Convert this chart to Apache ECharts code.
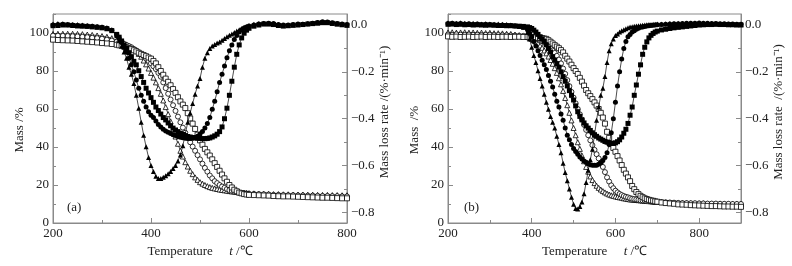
<!DOCTYPE html>
<html>
<head>
<meta charset="utf-8">
<script src="https://cdn.jsdelivr.net/npm/echarts@6/dist/echarts.min.js"></script>
<style>
  html, body { margin: 0; padding: 0; background: #fff; }
  #chart { width: 792px; height: 266px; }
</style>
</head>
<body>
<div id="chart"></div>
<script>
// temperatures (°C)
const tempA = [
  200, 210, 220, 230, 240, 250, 260, 270, 280, 290, 300, 310, 320,
  330, 335, 340, 345, 350, 355, 360, 365, 370, 375,
  380, 385, 390, 395, 400, 405, 410, 415, 420, 425,
  430, 435, 440, 445, 450, 455, 460, 465, 470, 475,
  480, 485, 490, 495, 500, 505, 510, 515, 520, 525,
  530, 535, 540, 545, 550, 555, 560, 565, 570, 575,
  580, 585, 590, 595, 600,
  610, 620, 630, 640, 650, 660, 670, 680, 690, 700,
  710, 720, 730, 740, 750, 760, 770, 780, 790, 800,
]
// mass % (open symbols), panel (a)
const tgA1 = [
  99.5, 99.6, 99.6, 99.6, 99.6, 99.5, 99.4, 99.2, 99.0, 98.7, 98.4, 98.0, 97.3,
  96.3, 95.8, 95.2, 94.6, 94.0, 93.3, 92.5, 91.5, 90.5, 89.0,
  87.5, 85.5, 83.5, 81.3, 79.0, 76.5, 74.0, 71.0, 68.0, 64.5,
  61.0, 57.3, 53.5, 49.5, 45.5, 41.7, 38.0, 35.0, 32.0, 29.7,
  27.5, 25.7, 24.0, 22.7, 21.5, 20.7, 20.0, 19.4, 18.9, 18.5,
  18.2, 17.9, 17.6, 17.4, 17.2, 17.0, 16.8, 16.6, 16.5, 16.3,
  16.2, 16.0, 15.9, 15.8, 15.7,
  15.6, 15.5, 15.4, 15.3, 15.2, 15.2, 15.1, 15.1, 15.0, 15.0,
  15.0, 14.9, 14.9, 14.8, 14.8, 14.8, 14.7, 14.7, 14.6, 14.6,
]
const tgA2 = [
  98.6, 98.6, 98.5, 98.4, 98.3, 98.2, 98.0, 97.8, 97.5, 97.3, 97.0, 96.5, 96.0,
  95.4, 95.1, 94.8, 94.3, 93.7, 93.1, 92.5, 91.6, 90.8, 89.9,
  89.0, 87.8, 86.5, 85.3, 84.0, 82.5, 81.0, 79.0, 77.0, 74.0,
  71.0, 68.0, 65.0, 62.0, 59.0, 56.0, 53.0, 50.2, 47.5, 45.0,
  42.5, 40.2, 38.0, 35.7, 33.5, 31.2, 29.0, 27.0, 25.0, 23.5,
  22.0, 21.0, 20.0, 19.2, 18.5, 17.9, 17.3, 16.9, 16.5, 16.2,
  16.0, 15.8, 15.7, 15.5, 15.4,
  15.3, 15.2, 15.1, 15.0, 14.8, 14.8, 14.7, 14.6, 14.6, 14.5,
  14.5, 14.4, 14.4, 14.3, 14.2, 14.2, 14.1, 14.1, 14.0, 14.0,
]
const tgA3 = [
  96.5, 96.3, 96.2, 96.1, 96.0, 95.8, 95.6, 95.4, 95.2, 95.0, 94.7, 94.5, 94.2,
  93.8, 93.5, 93.3, 92.8, 92.4, 92.0, 91.5, 90.9, 90.3, 89.6,
  89.0, 88.4, 87.8, 87.1, 86.5, 85.3, 84.0, 82.0, 80.0, 78.0,
  76.0, 74.3, 72.5, 70.5, 68.5, 66.2, 64.0, 62.3, 60.5, 57.8,
  55.0, 52.3, 49.5, 46.5, 43.5, 41.2, 39.0, 37.2, 35.5, 33.5,
  31.5, 29.5, 27.5, 25.5, 23.5, 21.7, 20.0, 18.7, 17.5, 16.7,
  16.0, 15.6, 15.2, 15.0, 14.8,
  14.7, 14.6, 14.5, 14.4, 14.2, 14.1, 14.0, 14.0, 13.9, 13.8,
  13.7, 13.6, 13.5, 13.4, 13.3, 13.3, 13.2, 13.1, 13.0, 13.0,
]
// mass loss rate (filled symbols), panel (a)
const dtgA1 = [
  0.004, 0.006, 0.005, 0.003, 0.002, 0.002, 0.0, -0.002, -0.004, -0.006, -0.008, -0.012, -0.02,
  -0.045, -0.065, -0.09, -0.115, -0.142, -0.18, -0.21, -0.25, -0.3, -0.355,
  -0.415, -0.47, -0.52, -0.565, -0.6, -0.625, -0.645, -0.655, -0.655, -0.65,
  -0.643, -0.635, -0.625, -0.612, -0.6, -0.58, -0.555, -0.515, -0.465, -0.415,
  -0.375, -0.335, -0.295, -0.26, -0.228, -0.18, -0.142, -0.118, -0.1, -0.09,
  -0.083, -0.077, -0.072, -0.065, -0.058, -0.05, -0.044, -0.038, -0.032, -0.026,
  -0.02, -0.015, -0.01, -0.006, -0.003,
  0.003, 0.006, 0.008, 0.006, 0.003, 0.0, -0.003, -0.002, 0.0, 0.002,
  0.004, 0.006, 0.008, 0.01, 0.012, 0.012, 0.008, 0.005, 0.002, 0.0,
]
const dtgA2 = [
  0.0, 0.002, 0.003, 0.001, 0.0, -0.002, -0.003, -0.004, -0.005, -0.007, -0.01, -0.014, -0.022,
  -0.04, -0.055, -0.075, -0.095, -0.115, -0.142, -0.17, -0.2, -0.235, -0.27,
  -0.3, -0.325, -0.35, -0.37, -0.385, -0.395, -0.41, -0.425, -0.435, -0.445,
  -0.452, -0.458, -0.463, -0.468, -0.472, -0.476, -0.479, -0.481, -0.483, -0.484,
  -0.484, -0.483, -0.48, -0.475, -0.465, -0.455, -0.44, -0.42, -0.395, -0.36,
  -0.325, -0.285, -0.245, -0.21, -0.175, -0.14, -0.11, -0.085, -0.062, -0.045,
  -0.03, -0.02, -0.013, -0.008, -0.004,
  0.0, 0.004, 0.006, 0.008, 0.006, 0.002, 0.0, 0.0, 0.002, 0.004,
  0.003, 0.005, 0.008, 0.011, 0.014, 0.013, 0.01, 0.006, 0.004, 0.002,
]
const dtgA3 = [
  -0.003, -0.002, 0.0, 0.0, -0.002, -0.004, -0.005, -0.006, -0.008, -0.01, -0.012, -0.016, -0.024,
  -0.04, -0.052, -0.068, -0.085, -0.1, -0.118, -0.135, -0.155, -0.17, -0.195,
  -0.22, -0.245, -0.27, -0.29, -0.31, -0.33, -0.35, -0.365, -0.38, -0.395,
  -0.405, -0.418, -0.43, -0.44, -0.448, -0.455, -0.462, -0.467, -0.472, -0.476,
  -0.478, -0.48, -0.482, -0.483, -0.484, -0.485, -0.485, -0.484, -0.482, -0.478,
  -0.473, -0.466, -0.455, -0.435, -0.4, -0.355, -0.3, -0.24, -0.18, -0.125,
  -0.085, -0.055, -0.035, -0.022, -0.014,
  -0.005, 0.0, 0.004, 0.004, 0.002, -0.002, -0.004, -0.003, -0.001, 0.0,
  0.002, 0.004, 0.006, 0.008, 0.01, 0.01, 0.007, 0.004, 0.001, -0.001,
]

// temperatures (°C)
const tempB = [
  200, 210, 220, 230, 240, 250, 260, 270, 280, 290, 300, 310, 320, 330, 340, 350, 360, 370, 380,
  390, 395, 400, 405, 410, 415, 420, 425, 430, 435,
  440, 445, 450, 455, 460, 465, 470, 475, 480, 485,
  490, 495, 500, 505, 510, 515, 520, 525, 530, 535,
  540, 545, 550, 555, 560, 565, 570, 575, 580, 585,
  590, 595, 600, 605, 610, 615, 620, 625, 630, 635,
  640, 645, 650, 655, 660, 665, 670, 675, 680, 685,
  690, 695, 700,
  710, 720, 730, 740, 750, 760, 770, 780, 790, 800, 810, 820, 830, 840, 850, 860, 870, 880, 890, 900,
]
const tgB1 = [
  100.3, 100.4, 100.2, 100.3, 100.4, 100.2, 100.3, 100.1, 100.2, 100.0, 100.1, 99.9, 99.9, 99.8, 99.6, 99.5, 99.2, 98.9, 98.5,
  98.0, 97.5, 96.9, 96.2, 95.4, 94.5, 93.4, 92.2, 90.8, 89.3,
  87.6, 85.8, 83.8, 81.5, 79.0, 76.2, 73.0, 69.5, 65.8, 62.0,
  58.0, 54.0, 50.0, 46.2, 42.5, 39.0, 35.5, 32.5, 29.5, 27.0,
  24.5, 22.6, 21.0, 19.6, 18.5, 17.6, 16.8, 16.1, 15.5, 15.0,
  14.6, 14.3, 14.0, 13.7, 13.5, 13.3, 13.0, 12.8, 12.6, 12.4,
  12.3, 12.2, 12.1, 12.0, 11.9, 11.8, 11.7, 11.6, 11.5, 11.4,
  11.3, 11.2, 11.1,
  11.0, 10.9, 10.8, 10.7, 10.6, 10.6, 10.5, 10.5, 10.4, 10.4, 10.4, 10.3, 10.3, 10.3, 10.3, 10.2, 10.2, 10.2, 10.2, 10.2,
]
const tgB2 = [
  99.2, 99.0, 99.3, 99.1, 99.0, 99.2, 99.0, 99.1, 98.9, 99.0, 99.1, 98.9, 98.9, 98.8, 98.8, 98.7, 98.6, 98.5, 98.5,
  98.3, 98.2, 98.0, 97.7, 97.3, 96.8, 96.3, 95.7, 95.0, 94.1,
  93.2, 92.0, 90.8, 89.5, 88.0, 86.0, 84.0, 81.3, 78.5, 75.2,
  72.0, 69.0, 66.0, 63.0, 60.0, 57.2, 54.5, 51.7, 49.0, 46.2,
  43.5, 41.0, 38.5, 36.2, 34.0, 31.7, 29.5, 26.8, 24.0, 21.8,
  19.8, 18.3, 17.0, 16.1, 15.3, 14.7, 14.2, 13.8, 13.5, 13.1,
  12.8, 12.6, 12.4, 12.2, 12.0, 11.9, 11.8, 11.6, 11.5, 11.4,
  11.3, 11.2, 11.1,
  11.0, 10.9, 10.8, 10.7, 10.6, 10.5, 10.5, 10.4, 10.4, 10.3, 10.3, 10.2, 10.2, 10.2, 10.1, 10.1, 10.1, 10.0, 10.0, 10.0,
]
const tgB3 = [
  98.2, 98.0, 98.1, 97.9, 98.0, 98.1, 97.9, 98.0, 98.1, 97.9, 98.0, 98.0, 97.9, 98.0, 98.0, 97.9, 98.0, 98.0, 97.9,
  97.9, 97.8, 97.8, 97.7, 97.6, 97.5, 97.4, 97.3, 97.1, 96.9,
  96.2, 95.4, 94.5, 93.6, 92.8, 92.0, 91.0, 89.8, 88.0, 86.5,
  85.0, 83.3, 81.5, 80.0, 78.4, 76.4, 74.4, 72.3, 70.0, 68.3,
  66.8, 65.2, 63.5, 61.8, 60.0, 58.0, 55.5, 52.3, 48.0, 44.8,
  41.5, 39.5, 37.5, 35.2, 32.9, 30.5, 28.0, 26.0, 24.0, 22.0,
  19.5, 17.8, 16.3, 15.2, 14.3, 13.6, 13.0, 12.6, 12.2, 11.9,
  11.7, 11.4, 11.2,
  10.8, 10.5, 10.3, 10.1, 9.8, 9.7, 9.6, 9.4, 9.3, 9.2, 9.1, 9.0, 8.9, 8.9, 8.8, 8.7, 8.7, 8.6, 8.6, 8.5,
]
const dtgB1 = [
  0.01, 0.009, 0.008, 0.01, 0.008, 0.006, 0.007, 0.005, 0.004, 0.005, 0.004, 0.003, 0.004, 0.003, 0.002, 0.0, -0.002, -0.005, -0.01,
  -0.03, -0.06, -0.095, -0.13, -0.16, -0.195, -0.228, -0.26, -0.295, -0.33,
  -0.36, -0.39, -0.415, -0.44, -0.475, -0.51, -0.545, -0.59, -0.63, -0.665,
  -0.7, -0.735, -0.765, -0.783, -0.785, -0.775, -0.755, -0.72, -0.672, -0.62,
  -0.575, -0.53, -0.47, -0.406, -0.35, -0.3, -0.27, -0.22, -0.16, -0.11,
  -0.08, -0.06, -0.045, -0.038, -0.03, -0.025, -0.02, -0.016, -0.012, -0.009,
  -0.007, -0.005, -0.004, -0.003, -0.002, -0.001, 0.0, 0.001, 0.002, 0.002,
  0.003, 0.003, 0.004,
  0.004, 0.005, 0.006, 0.006, 0.007, 0.006, 0.006, 0.007, 0.008, 0.008, 0.007, 0.006, 0.006, 0.005, 0.005, 0.004, 0.004, 0.003, 0.003, 0.002,
]
const dtgB2 = [
  0.006, 0.007, 0.005, 0.006, 0.004, 0.005, 0.003, 0.004, 0.002, 0.003, 0.002, 0.001, 0.0, 0.0, -0.001, -0.002, -0.004, -0.006, -0.01,
  -0.02, -0.035, -0.05, -0.07, -0.09, -0.11, -0.13, -0.15, -0.17, -0.19,
  -0.215, -0.24, -0.265, -0.295, -0.325, -0.35, -0.38, -0.406, -0.44, -0.47,
  -0.49, -0.51, -0.527, -0.54, -0.552, -0.563, -0.572, -0.58, -0.586, -0.592,
  -0.596, -0.598, -0.599, -0.598, -0.594, -0.588, -0.578, -0.565, -0.545, -0.51,
  -0.46, -0.4, -0.33, -0.26, -0.2, -0.145, -0.1, -0.07, -0.05, -0.04,
  -0.03, -0.024, -0.018, -0.014, -0.01, -0.008, -0.006, -0.004, -0.003, -0.002,
  -0.001, 0.0, 0.001,
  0.002, 0.003, 0.004, 0.005, 0.005, 0.006, 0.007, 0.007, 0.008, 0.009, 0.008, 0.007, 0.006, 0.006, 0.005, 0.005, 0.004, 0.004, 0.003, 0.003,
]
const dtgB3 = [
  0.003, 0.004, 0.002, 0.003, 0.001, 0.002, 0.0, 0.001, 0.0, -0.001, 0.0, -0.001, -0.002, -0.002, -0.003, -0.003, -0.004, -0.005, -0.006,
  -0.008, -0.011, -0.015, -0.022, -0.03, -0.04, -0.05, -0.06, -0.07, -0.085,
  -0.1, -0.115, -0.135, -0.15, -0.165, -0.18, -0.2, -0.22, -0.24, -0.26,
  -0.28, -0.3, -0.32, -0.345, -0.37, -0.39, -0.405, -0.418, -0.43, -0.44,
  -0.45, -0.46, -0.468, -0.475, -0.482, -0.487, -0.492, -0.497, -0.5, -0.503,
  -0.505, -0.505, -0.503, -0.498, -0.49, -0.478, -0.462, -0.445, -0.42, -0.385,
  -0.35, -0.3, -0.256, -0.21, -0.17, -0.125, -0.095, -0.072, -0.055, -0.044,
  -0.036, -0.03, -0.026,
  -0.021, -0.018, -0.015, -0.012, -0.01, -0.008, -0.006, -0.004, -0.002, 0.0, 0.001, 0.002, 0.002, 0.003, 0.002, 0.002, 0.001, 0.001, 0.0, 0.0,
]

// tick labels
const xTicksA = [200, 400, 600, 800]
const xMinorA = [300, 500, 700]
const xTicksB = [200, 400, 600, 800]
const xMinorB = [300, 500, 700, 900]
const massTicks = [0, 20, 40, 60, 80, 100]
const massMinor = [10, 30, 50, 70, 90, 110]
const rateTicks = [0, -0.2, -0.4, -0.6, -0.8]
const rateMinor = [-0.1, -0.3, -0.5, -0.7]

const serif = '"Liberation Serif", "Times New Roman", serif'
const frame = '#8a8a8a'
const ink = '#222'
const labelStyle = { color: ink, fontFamily: serif, fontSize: 13 }

function pairs(t, v) {
  return t.map((x, i) => [x, v[i]])
}

function rateLabel(v) {
  return v === 0 ? '0.0' : '\u2212' + Math.abs(v).toFixed(1)
}

// x axes: main one (labels + major ticks) and an overlay for minor ticks
function xAxes(grid, max, majors, minors) {
  return [
    {
      type: 'value', gridIndex: grid, position: 'bottom', min: 200, max: max,
      name: 'Temperature     {i|t} /℃',
      nameLocation: 'middle',
      nameGap: 19,
      nameTextStyle: {
        ...labelStyle,
        rich: { i: { ...labelStyle, fontStyle: 'italic' } },
      },
      axisLine: { lineStyle: { color: frame } },
      axisTick: { inside: true, length: 5, customValues: majors, lineStyle: { color: frame } },
      axisLabel: { ...labelStyle, customValues: majors, margin: 4 },
      splitLine: { show: false },
    },
    {
      type: 'value', gridIndex: grid, position: 'bottom', min: 200, max: max,
      axisLine: { show: false },
      axisTick: { inside: true, length: 3, customValues: minors, lineStyle: { color: frame } },
      axisLabel: { show: false },
      splitLine: { show: false },
    },
  ]
}

function yAxes(grid, massName, rateName, rateGap) {
  return [
    // 质量 %
    {
      type: 'value', gridIndex: grid, position: 'left', min: 0, max: 110,
      name: massName, nameLocation: 'middle', nameGap: 27,
      nameTextStyle: { ...labelStyle, padding: [0, 23, 0, 0] },
      axisLine: { lineStyle: { color: frame } },
      axisTick: { inside: true, length: 5, customValues: massTicks, lineStyle: { color: frame } },
      axisLabel: { ...labelStyle, customValues: massTicks, margin: 4 },
      splitLine: { show: false },
    },
    {
      type: 'value', gridIndex: grid, position: 'left', min: 0, max: 110,
      axisLine: { show: false },
      axisTick: { inside: true, length: 3, customValues: massMinor, lineStyle: { color: frame } },
      axisLabel: { show: false },
      splitLine: { show: false },
    },
    // 失重速率
    {
      type: 'value', gridIndex: grid, position: 'right', min: -0.845, max: 0.047,
      name: rateName, nameLocation: 'middle', nameGap: rateGap,
      nameTextStyle: { ...labelStyle, padding: [0, 0, 0, 13] },
      axisLine: { lineStyle: { color: frame } },
      axisTick: { inside: true, length: 5, customValues: rateTicks, lineStyle: { color: frame } },
      axisLabel: { ...labelStyle, customValues: rateTicks, margin: 4, formatter: rateLabel },
      splitLine: { show: false },
    },
    {
      type: 'value', gridIndex: grid, position: 'right', min: -0.845, max: 0.047,
      axisLine: { show: false },
      axisTick: { inside: true, length: 3, customValues: rateMinor, lineStyle: { color: frame } },
      axisLabel: { show: false },
      splitLine: { show: false },
    },
  ]
}

function curve(xi, yi, t, v, symbol, size, filled) {
  return {
    type: 'line',
    xAxisIndex: xi,
    yAxisIndex: yi,
    data: pairs(t, v),
    symbol: symbol,
    symbolSize: size,
    showAllSymbol: true,
    lineStyle: { color: '#000', width: 0.7 },
    itemStyle: filled
      ? { color: '#000', borderColor: '#000', borderWidth: 0 }
      : { color: '#fff', borderColor: '#000', borderWidth: 0.8 },
    emphasis: { disabled: true },
    z: filled ? 3 : 2,
  }
}

const chart = echarts.init(document.getElementById('chart'))
chart.setOption({
  animation: false,
  backgroundColor: '#fff',
  title: [
    { text: '(a)', left: 62, top: 196, textStyle: { ...labelStyle, fontWeight: 'normal' } },
    { text: '(b)', left: 459, top: 196, textStyle: { ...labelStyle, fontWeight: 'normal' } },
  ],
  grid: [
    { left: 53, top: 14, width: 294, height: 209, show: true, borderColor: frame, borderWidth: 1 },
    { left: 448, top: 14, width: 293, height: 209, show: true, borderColor: frame, borderWidth: 1 },
  ],
  xAxis: [...xAxes(0, 800, xTicksA, xMinorA), ...xAxes(1, 900, xTicksB, xMinorB)],
  yAxis: [
    ...yAxes(0, 'Mass /%', 'Mass loss rate /(%·min⁻¹)', 27),
    ...yAxes(1, 'Mass  /%', 'Mass loss rate  /(%·min⁻¹)', 29),
  ],
  series: [
    curve(0, 0, tempA, tgA1, 'triangle', 5, false),
    curve(0, 0, tempA, tgA2, 'circle', 5, false),
    curve(0, 0, tempA, tgA3, 'rect', 5, false),
    curve(0, 2, tempA, dtgA1, 'triangle', 5, true),
    curve(0, 2, tempA, dtgA2, 'circle', 5, true),
    curve(0, 2, tempA, dtgA3, 'rect', 5, true),
    curve(2, 4, tempB, tgB1, 'triangle', 5, false),
    curve(2, 4, tempB, tgB2, 'circle', 5, false),
    curve(2, 4, tempB, tgB3, 'rect', 5, false),
    curve(2, 6, tempB, dtgB1, 'triangle', 5, true),
    curve(2, 6, tempB, dtgB2, 'circle', 5, true),
    curve(2, 6, tempB, dtgB3, 'rect', 5, true),
  ],
})
</script>
</body>
</html>
